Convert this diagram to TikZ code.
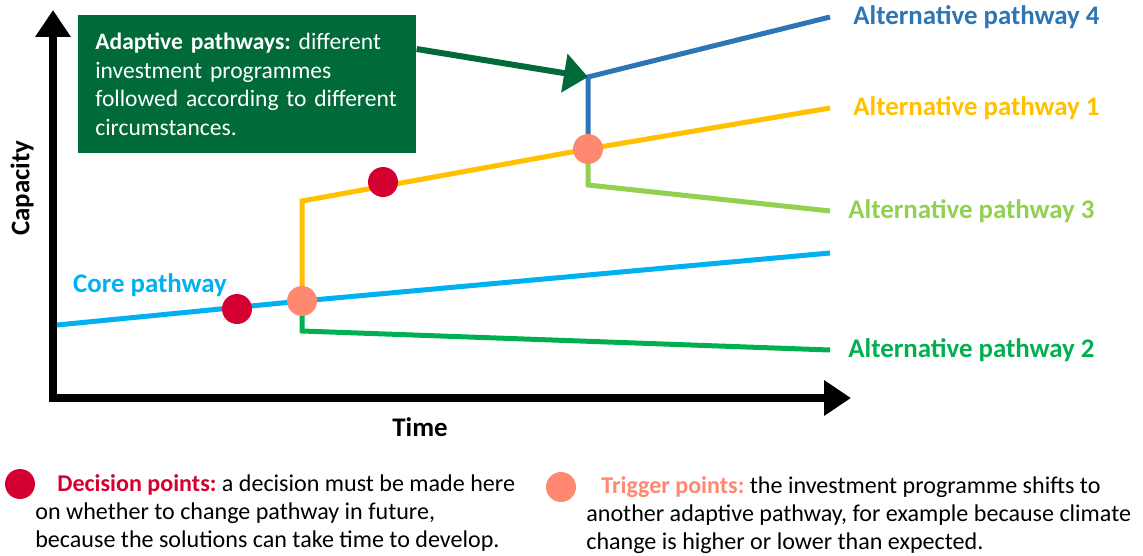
\documentclass[tikz,border=0pt]{standalone}
\usepackage{fontspec}
\setmainfont{Carlito}
\usepackage{tikz}
\usetikzlibrary{positioning}
\usetikzlibrary{arrows.meta}

\definecolor{corecol}{HTML}{00B0F0}
\definecolor{alt1col}{HTML}{FFC000}
\definecolor{alt2col}{HTML}{00B050}
\definecolor{alt3col}{HTML}{92D050}
\definecolor{alt4col}{HTML}{2E75B6}
\definecolor{boxcol}{HTML}{006A38}
\definecolor{deccol}{HTML}{D50032}
\definecolor{trigcol}{HTML}{FF8870}
\frenchspacing

\begin{document}
\begin{tikzpicture}[x=0.02cm, y=-0.02cm]
\tikzstyle{axis}=[line width=0.16cm, line join=miter, {Triangle[length=0.54cm,width=0.68cm]}-{Triangle[length=0.54cm,width=0.68cm]}]
\tikzstyle{path}=[line width=0.1cm, line join=miter]
\tikzstyle{dec}=[circle, fill=deccol, minimum size=0.6cm, inner sep=0]
\tikzstyle{trig}=[circle, fill=trigcol, minimum size=0.6cm, inner sep=0]
\tikzstyle{lab}=[font=\fontsize{15.3}{18}\selectfont\bfseries, inner sep=0, anchor=west]
\tikzstyle{txt}=[font=\fontsize{13.4}{16.4}\selectfont, inner sep=0, align=left]
\tikzstyle{key}=[font=\fontsize{13.7}{15.9}\selectfont, inner sep=0, align=left, anchor=west]
\useasboundingbox (0,0) rectangle (1143,555);

  % axes
  \draw[axis] (53,10) -- (53,398) -- (851,398);
  \node[lab, anchor=center, rotate=90] (cap) at (22,188) {Capacity};
  \node[lab, anchor=center] (time) at (420,427) {Time};

  % points where pathways split
  \coordinate (c0) at (57,325);
  \coordinate (t1) at (302,301);
  \coordinate (t2) at (588,149);
  \coordinate (a1) at (302,201);
  \coordinate (a2) at (302,331);
  \coordinate (a3) at (588,185);
  \coordinate (a4) at (588,77);
  \coordinate (e0) at (830,253);
  \coordinate (e1) at (830,108);
  \coordinate (e2) at (830,350);
  \coordinate (e3) at (830,211);
  \coordinate (e4) at (830,17);

  \draw[path, alt2col] (t1) -- (a2) -- (e2);
  \draw[path, alt3col] (t2) -- (a3) -- (e3);
  \draw[path, alt4col] (t2) -- (a4) -- (e4);
  \draw[path, alt1col] (t1) -- (a1) -- (t2) -- (e1);
  \draw[path, corecol] (c0) -- (t1) -- (e0);

  \node[dec] (d1) at (237,309) {};
  \node[dec] (d2) at (383,182) {};
  \node[trig] (p1) at (t1) {};
  \node[trig] (p2) at (t2) {};

  \node[lab, text=corecol, anchor=center] (core) at (150,285) {Core pathway};
  \node[lab, text=alt4col, right=0.46cm of e4] (l4) {Alternative pathway 4};
  \node[lab, text=alt1col, right=0.46cm of e1] (l1) {Alternative pathway 1};
  \node[lab, text=alt3col, right=0.36cm of e3] (l3) {Alternative pathway 3};
  \node[lab, text=alt2col, right=0.36cm of e2] (l2) {Alternative pathway 2};

  % box with arrow
  \node[txt, fill=boxcol, text=white, anchor=north west, minimum width=6.76cm, minimum height=2.76cm,
        text width=6.08cm, inner xsep=0.34cm] (box) at (78,15)
       {\textbf{Adaptive pathways:} different\\investment programmes\\followed according to different\\circumstances.};
  \draw[line width=0.12cm, boxcol, -{Triangle[length=0.48cm,width=0.76cm]}] ([yshift=-0.68cm]box.north east) -- (a4);

  % legend
  \node[dec] (kd) at (20,484) {};
  \node[key] (kdtxt) at (35,513)
       {\hspace*{0.44cm}{\color{deccol}\bfseries Decision points:} a decision must be made here\\on whether to change pathway in future,\\because the solutions can take time to develop.};
  \node[trig] (kt) at (561,487) {};
  \node[key] (kttxt) at (586,515)
       {\hspace*{0.3cm}{\color{trigcol}\bfseries Trigger points:} the investment programme shifts to\\another adaptive pathway, for example because climate\\change is higher or lower than expected.};
\end{tikzpicture}
\end{document}
